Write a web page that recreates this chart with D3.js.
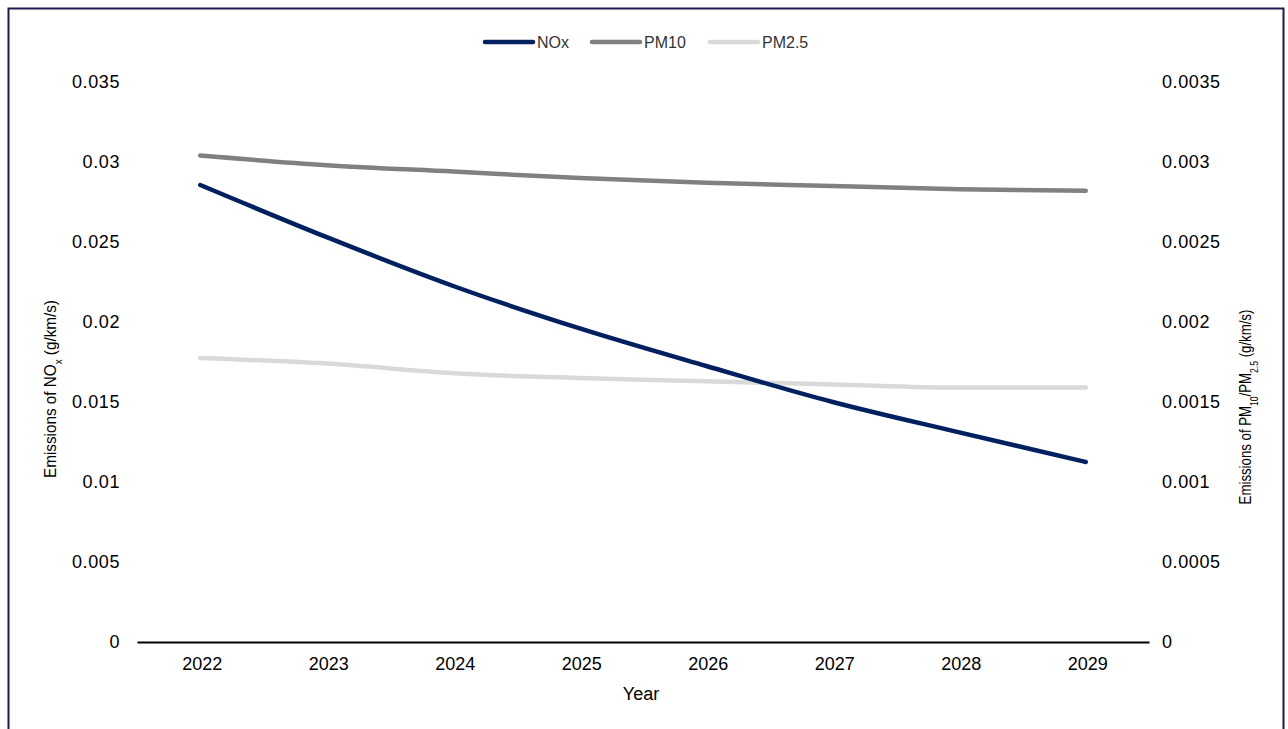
<!DOCTYPE html>
<html>
<head>
<meta charset="utf-8">
<script src="https://cdn.jsdelivr.net/npm/d3@7"></script>
<style>
  body { margin: 0; background: #fff; }
  svg text { font-family: "Liberation Sans", Arial, sans-serif; fill: #000; }
</style>
</head>
<body>
<div id="chart"></div>
<script>
// data
const years = ["2022", "2023", "2024", "2025", "2026", "2027", "2028", "2029"];
const noxValues = [0.02856, 0.0253, 0.02225, 0.0196, 0.01725, 0.0150, 0.0131, 0.01125];
const pm10Values = [0.00304, 0.00298, 0.00294, 0.00290, 0.00287, 0.00285, 0.00283, 0.00282];
const pm25Values = [0.001775, 0.00174, 0.00168, 0.00165, 0.00163, 0.00161, 0.00159, 0.00159];
const leftTicks = [0, 0.005, 0.01, 0.015, 0.02, 0.025, 0.03, 0.035];
const rightTicks = [0, 0.0005, 0.001, 0.0015, 0.002, 0.0025, 0.003, 0.0035];

const width = 1288, height = 729;
const svg = d3.select("#chart").append("svg")
    .attr("width", width)
    .attr("height", height);

// frame
svg.append("rect")
    .attr("x", 8.5).attr("y", 8.5)
    .attr("width", 1275).attr("height", 740)
    .attr("fill", "none")
    .attr("stroke", "#1f1a4d")
    .attr("stroke-width", 2);

const plotLeft = 137, plotRight = 1149, plotTop = 82, plotBottom = 642;

const x = d3.scaleBand().domain(years).range([plotLeft, plotRight]);
const yL = d3.scaleLinear().domain([0, 0.035]).range([plotBottom, plotTop]);
const yR = d3.scaleLinear().domain([0, 0.0035]).range([plotBottom, plotTop]);

// x axis
const xAxis = svg.append("g")
    .attr("transform", "translate(0," + plotBottom + ")")
    .call(d3.axisBottom(x).tickSize(0).tickPadding(15));
xAxis.select(".domain").attr("stroke", "#000").attr("stroke-width", 2);
xAxis.selectAll("text").style("font-size", "18px").attr("dx", 2);

// left axis
const lAxis = svg.append("g")
    .attr("transform", "translate(" + (plotLeft - 17) + ",0)")
    .call(d3.axisLeft(yL).tickValues(leftTicks).tickSize(0).tickPadding(0)
        .tickFormat(d => String(+d.toFixed(4))));
lAxis.select(".domain").remove();
lAxis.selectAll("text").style("font-size", "18px").style("letter-spacing", "0.6px");

// right axis
const rAxis = svg.append("g")
    .attr("transform", "translate(" + (plotRight + 13) + ",0)")
    .call(d3.axisRight(yR).tickValues(rightTicks).tickSize(0).tickPadding(0)
        .tickFormat(d => String(+d.toFixed(5))));
rAxis.select(".domain").remove();
rAxis.selectAll("text").style("font-size", "18px").style("letter-spacing", "0.6px");

// axis titles, squeezed to the reference length
function fitTitle(t, cx, cy, len) {
    const w = t.node().getComputedTextLength();
    t.attr("transform", "translate(" + cx + "," + cy + ") rotate(-90) scale(" + (len / w) + ",1)");
}

const lt = svg.append("text")
    .attr("text-anchor", "middle")
    .style("font-size", "17px");
lt.append("tspan").text("Emissions of NO");
lt.append("tspan").text("x").attr("baseline-shift", "sub").style("font-size", "11px");
lt.append("tspan").text(" (g/km/s)");
fitTitle(lt, 56, 389, 178);

const rt = svg.append("text")
    .attr("text-anchor", "middle")
    .style("font-size", "17px");
rt.append("tspan").text("Emissions of PM");
rt.append("tspan").text("10").attr("baseline-shift", "sub").style("font-size", "11px");
rt.append("tspan").text("/PM");
rt.append("tspan").text("2.5").attr("baseline-shift", "sub").style("font-size", "11px");
rt.append("tspan").text(" (g/km/s)");
fitTitle(rt, 1251, 407, 195);

svg.append("text")
    .attr("x", 641).attr("y", 700)
    .attr("text-anchor", "middle")
    .style("font-size", "18px")
    .text("Year");

// lines
const series = [
    { name: "NOx", values: noxValues, scale: yL, color: "#002060" },
    { name: "PM10", values: pm10Values, scale: yR, color: "#808080" },
    { name: "PM2.5", values: pm25Values, scale: yR, color: "#d9d9d9" }
];

series.slice().reverse().forEach(s => {
    const line = d3.line()
        .x((d, i) => x(years[i]) + x.bandwidth() / 2)
        .y(d => s.scale(d))
        .curve(d3.curveMonotoneX);
    svg.append("path")
        .datum(s.values)
        .attr("d", line)
        .attr("fill", "none")
        .attr("stroke", s.color)
        .attr("stroke-width", 4.5)
        .attr("stroke-linecap", "round");
});

// legend
const legendX = [485, 592, 710];
series.forEach((s, i) => {
    const g = svg.append("g").attr("transform", "translate(" + legendX[i] + ",42)");
    g.append("line")
        .attr("x1", 0).attr("x2", 48)
        .attr("stroke", s.color)
        .attr("stroke-width", 4.5)
        .attr("stroke-linecap", "round");
    g.append("text")
        .attr("x", 52).attr("y", 6)
        .style("font-size", "16px")
        .style("fill", "#333")
        .text(s.name);
});
</script>
</body>
</html>
